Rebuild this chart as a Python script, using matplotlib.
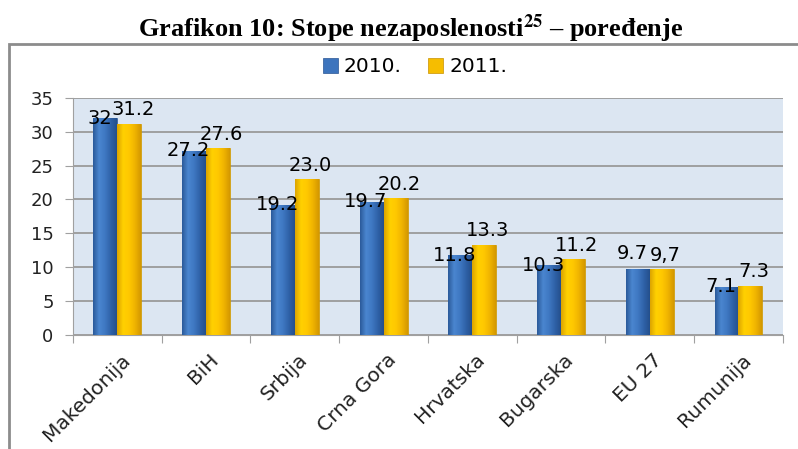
import numpy as np
import matplotlib.pyplot as plt
from matplotlib.colors import LinearSegmentedColormap
from matplotlib.patches import Rectangle
from matplotlib.transforms import ScaledTranslation

countries = ["Makedonija", "BiH", "Srbija", "Crna Gora", "Hrvatska", "Bugarska", "EU 27", "Rumunija"]
rate_2010 = [32, 27.2, 19.2, 19.7, 11.8, 10.3, 9.7, 7.1]
rate_2011 = [31.2, 27.6, 23.0, 20.2, 13.3, 11.2, 9.7, 7.3]
labels_2010 = ["32", "27.2", "19.2", "19.7", "11.8", "10.3", "9.7", "7.1"]
labels_2011 = ["31.2", "27.6", "23.0", "20.2", "13.3", "11.2", "9,7", "7.3"]

plt.rcParams['font.family'] = ['DejaVu Sans']

fig = plt.figure(figsize=(7.98, 4.49), dpi=100)
ax = fig.add_axes([0.0915, 0.254, 0.8895, 0.528])

# outer chart frame
fig.patches.append(Rectangle((0.011, -0.2), 1.2, 1.102, transform=fig.transFigure,
                             fill=False, edgecolor="#8c8c8c", linewidth=2))

fig.text(0.514, 0.937, r"Grafikon 10: Stope nezaposlenosti$^{\mathbf{25}}$ – poređenje",
         ha="center", va="center", fontsize=19, fontweight="bold",
         family="Liberation Serif", math_fontfamily="stix")

ax.set_facecolor("#dce6f2")
x = np.arange(len(countries))
w = 0.27

blue_cmap = LinearSegmentedColormap.from_list("b", ["#2b5a9a", "#4a86d0", "#3f78c2", "#2f62a8", "#244f8c"])
yell_cmap = LinearSegmentedColormap.from_list("y", ["#dca400", "#ffd000", "#ffc800", "#f0b400", "#d49800"])

b1 = ax.bar(x - w / 2, rate_2010, w, color="#3d74bd", edgecolor="#2a5594", linewidth=0.5, label="2010.", zorder=3)
b2 = ax.bar(x + w / 2, rate_2011, w, color="#f6bd00", edgecolor="#c99200", linewidth=0.5, label="2011.", zorder=3)

grad = np.linspace(0, 1, 64).reshape(1, -1)
for bars, cmap in [(b1, blue_cmap), (b2, yell_cmap)]:
    for r in bars:
        x0, y0 = r.get_x(), r.get_y()
        im = ax.imshow(grad, cmap=cmap, aspect="auto", zorder=3.5,
                       extent=[x0, x0 + r.get_width(), y0, y0 + r.get_height()])
        im.set_clip_path(r)

ax.set_xlim(-0.5, len(countries) - 0.5)
ax.set_ylim(0, 35)
ax.set_yticks(range(0, 36, 5))
ax.yaxis.grid(True, color="#9a9a9a", linewidth=1.3, zorder=1)
ax.set_axisbelow(True)

for s in ["top", "right"]:
    ax.spines[s].set_visible(False)
ax.spines["left"].set_color("#a0a0a0")
ax.spines["bottom"].set_color("#a0a0a0")

ax.set_xticks(np.arange(-0.5, len(countries) + 0.5, 1), minor=False)
ax.set_xticklabels([])
ax.set_xticks(x, minor=True)
ax.set_xticklabels(countries, minor=True, rotation=45, ha="right", rotation_mode="anchor",
                   fontsize=14.5, color="#222222")
ax.tick_params(axis="x", which="major", length=6, color="#a0a0a0")
ax.tick_params(axis="x", which="minor", length=0, pad=11)
ax.tick_params(axis="y", length=6, color="#a0a0a0", pad=8, labelsize=13, labelcolor="#222222")
shift = ScaledTranslation(2 / 72, 0, fig.dpi_scale_trans)
for lab in ax.get_xticklabels(minor=True):
    lab.set_transform(lab.get_transform() + shift)

for i, (r, t) in enumerate(zip(b1, labels_2010)):
    dy = 11 if countries[i] == "EU 27" else 0
    ax.annotate(t, (r.get_x() + r.get_width() / 2, r.get_height()), xytext=(-4, dy),
                textcoords="offset points", ha="center", va="center", fontsize=14, zorder=5)
for r, t in zip(b2, labels_2011):
    ax.annotate(t, (r.get_x() + r.get_width() / 2, r.get_height()), xytext=(2.5, 10),
                textcoords="offset points", ha="center", va="center", fontsize=14, zorder=5)

fig.legend(loc="center", bbox_to_anchor=(0.52, 0.851), ncol=2, frameon=False, fontsize=14.5,
           handlelength=0.75, handleheight=0.75, handletextpad=0.3, columnspacing=1.3)

fig.savefig("out.png", dpi=100)
